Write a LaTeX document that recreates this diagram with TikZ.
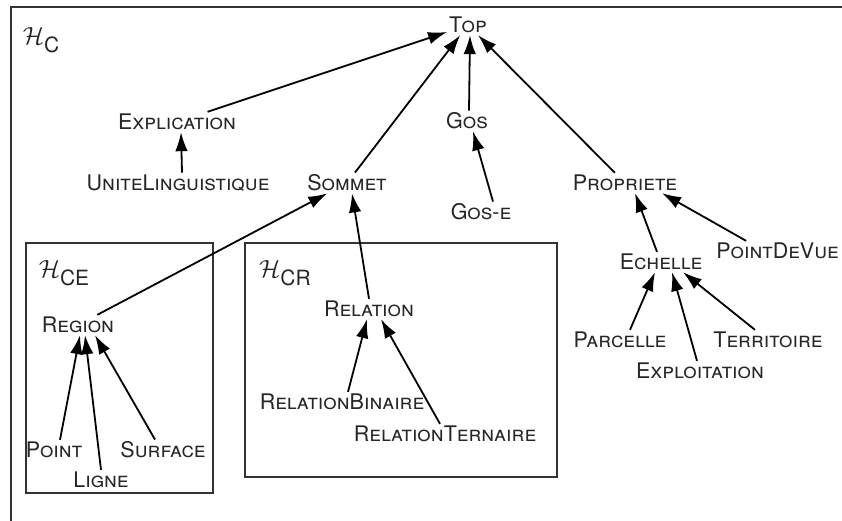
\documentclass[tikz,border=0pt]{standalone}
\usepackage{fontspec}
\setmainfont{TeX Gyre Heros}
\usetikzlibrary{arrows.meta}

\begin{document}
\begin{tikzpicture}[x=1pt,y=-1pt,
  concept/.style={font=\fontsize{21.5}{25}\selectfont\scshape, text=black!85, inner sep=2pt},
  hlabel/.style={inner sep=0pt, text=black!85},
  isa/.style={-{Latex[length=19pt,width=12.5pt]}, line width=1.8pt},
  frame/.style={line width=1.6pt, black!80}]

\useasboundingbox (0,0) rectangle (842,521);

% outer frame (runs off the page right and bottom)
\draw[frame] (11,521) -- (11,7) -- (842,7);
\draw[frame] (26,243) rectangle (213,493);
\draw[frame] (245,243) rectangle (557,477);

% hierarchy names
\node[hlabel] (hc) at (41,40) {\fontsize{34}{34}\selectfont$\mathcal{H}$\raisebox{-8pt}{\fontsize{21}{21}\selectfont C}};
\node[hlabel] (hce) at (64,273) {\fontsize{34}{34}\selectfont$\mathcal{H}$\raisebox{-8pt}{\fontsize{21}{21}\selectfont CE}};
\node[hlabel] (hcr) at (285,273) {\fontsize{34}{34}\selectfont$\mathcal{H}$\raisebox{-8pt}{\fontsize{21}{21}\selectfont CR}};

% concepts
\node[concept] (top) at (468,25) {Top};
\node[concept] (explication) at (177,122) {Explication};
\node[concept] (unite) at (178,183) {UniteLinguistique};
\node[concept] (sommet) at (347,183) {Sommet};
\node[concept] (gos) at (467,121) {Gos};
\node[concept] (gose) at (481,212) {Gos-e};
\node[concept] (propriete) at (625,183) {Propriete};
\node[concept,anchor=east] (pdv) at (841,251) {PointDeVue};
\node[concept] (echelle) at (661,262) {Echelle};
\node[concept] (parcelle) at (620,340) {Parcelle};
\node[concept] (exploitation) at (700,371) {Exploitation};
\node[concept] (territoire) at (768,340) {Territoire};

\node[concept] (region) at (78,325) {Region};
\node[concept] (point) at (54,450) {Point};
\node[concept] (ligne) at (101,480) {Ligne};
\node[concept] (surface) at (163,450) {Surface};

\node[concept] (relation) at (369,309) {Relation};
\node[concept] (binaire) at (342,402) {RelationBinaire};
\node[concept] (ternaire) at (445,434) {RelationTernaire};

% is-a links
\draw[isa] (explication) -- (top);
\draw[isa] (sommet) -- (top);
\draw[isa] ([xshift=2pt]gos.north) -- ([xshift=2pt]top.south);
\draw[isa] (propriete) -- (top);
\draw[isa] ([xshift=4pt]unite.north) -- ([xshift=4pt]explication.south);
\draw[isa] ([xshift=12pt]gose.north) -- ([xshift=6pt]gos.south);

\draw[isa] (region) -- (sommet);
\draw[isa] (relation.north) -- ([xshift=5pt]sommet.south);
\draw[isa] ([xshift=6pt]point.north) -- ([xshift=2pt]region.south);
\draw[isa] (ligne.north) -- ([xshift=7pt]region.south);
\draw[isa] ([xshift=-8pt]surface.north) -- ([xshift=17pt]region.south);

\draw[isa] ([xshift=6pt]binaire.north) -- ([xshift=-2pt]relation.south);
\draw[isa] ([xshift=-5pt]ternaire.north) -- ([xshift=12pt]relation.south);

\draw[isa] ([xshift=-4pt]echelle.north) -- ([xshift=10pt]propriete.south);
\draw[isa] ([xshift=32pt]pdv.north west) -- ([xshift=37pt]propriete.south);
\draw[isa] ([xshift=10pt]parcelle.north) -- ([xshift=-6pt]echelle.south);
\draw[isa] ([xshift=-3pt]exploitation.north) -- ([xshift=11pt]echelle.south);
\draw[isa] ([xshift=-13pt]territoire.north) -- ([xshift=22pt]echelle.south);

\end{tikzpicture}
\end{document}
